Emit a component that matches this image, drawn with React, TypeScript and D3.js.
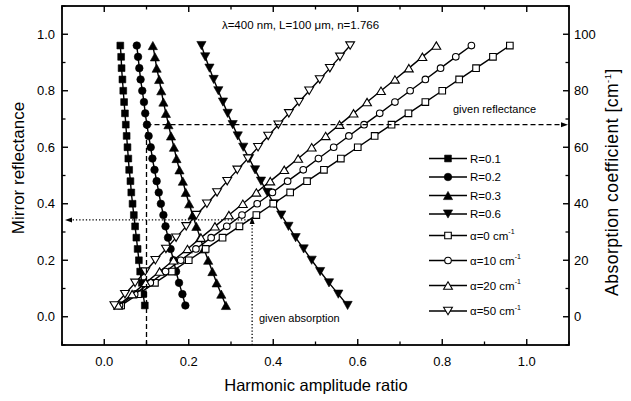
import React from 'react';
import * as d3 from 'd3';

// ---------- data ----------
// absorption coefficient (cm^-1, right axis) for the fixed-R curves
const alphaGrid = [4, 8, 12, 16, 20, 24, 28, 32, 36, 40, 44, 48, 52, 56, 60, 64, 68, 72, 76, 80, 84, 88, 92, 96];
const ratioR01 = [0.096, 0.092, 0.089, 0.085, 0.082, 0.079, 0.076, 0.073, 0.070, 0.067, 0.064, 0.062, 0.059, 0.057, 0.055, 0.053, 0.051, 0.049, 0.047, 0.045, 0.043, 0.041, 0.040, 0.038];
const ratioR02 = [0.192, 0.185, 0.177, 0.170, 0.164, 0.157, 0.151, 0.145, 0.140, 0.134, 0.129, 0.124, 0.119, 0.114, 0.110, 0.105, 0.101, 0.097, 0.094, 0.090, 0.086, 0.083, 0.080, 0.077];
const ratioR03 = [0.288, 0.277, 0.266, 0.256, 0.246, 0.236, 0.227, 0.218, 0.209, 0.201, 0.193, 0.186, 0.178, 0.171, 0.165, 0.158, 0.152, 0.146, 0.140, 0.135, 0.130, 0.124, 0.120, 0.115];
const ratioR06 = [0.576, 0.554, 0.532, 0.511, 0.491, 0.472, 0.453, 0.436, 0.419, 0.402, 0.386, 0.371, 0.357, 0.343, 0.329, 0.316, 0.304, 0.292, 0.281, 0.270, 0.259, 0.249, 0.239, 0.230];

// mirror reflectance (left axis) for the fixed-alpha curves
const reflGrid = [0.04, 0.08, 0.12, 0.16, 0.20, 0.24, 0.28, 0.32, 0.36, 0.40, 0.44, 0.48, 0.52, 0.56, 0.60, 0.64, 0.68, 0.72, 0.76, 0.80, 0.84, 0.88, 0.92, 0.96];
const ratioA0 = [0.040, 0.080, 0.120, 0.160, 0.200, 0.240, 0.280, 0.320, 0.360, 0.400, 0.440, 0.480, 0.520, 0.560, 0.600, 0.640, 0.680, 0.720, 0.760, 0.800, 0.840, 0.880, 0.920, 0.960];
const ratioA10 = [0.036, 0.072, 0.109, 0.145, 0.181, 0.217, 0.253, 0.290, 0.326, 0.362, 0.398, 0.434, 0.471, 0.507, 0.543, 0.579, 0.615, 0.652, 0.688, 0.724, 0.760, 0.796, 0.832, 0.869];
const ratioA20 = [0.033, 0.066, 0.098, 0.131, 0.164, 0.197, 0.229, 0.262, 0.295, 0.328, 0.360, 0.393, 0.426, 0.459, 0.491, 0.524, 0.557, 0.590, 0.622, 0.655, 0.688, 0.721, 0.753, 0.786];
const ratioA50 = [0.024, 0.049, 0.073, 0.097, 0.121, 0.146, 0.170, 0.194, 0.218, 0.243, 0.267, 0.291, 0.315, 0.340, 0.364, 0.388, 0.412, 0.437, 0.461, 0.485, 0.510, 0.534, 0.558, 0.582];

const xTicks = [0, 0.2, 0.4, 0.6, 0.8, 1.0];
const xTickLabels = ['0.0', '0.2', '0.4', '0.6', '0.8', '1.0'];
const yLeftTicks = [0, 0.2, 0.4, 0.6, 0.8, 1.0];
const yLeftTickLabels = ['0.0', '0.2', '0.4', '0.6', '0.8', '1.0'];
const yRightTicks = [0, 20, 40, 60, 80, 100];
const yRightTickLabels = ['0', '20', '40', '60', '80', '100'];
const xMinorTicks = [-0.1, 0.1, 0.3, 0.5, 0.7, 0.9, 1.1];
const yLeftMinorTicks = [-0.1, 0.1, 0.3, 0.5, 0.7, 0.9, 1.1];
const yRightMinorTicks = [-10, 10, 30, 50, 70, 90, 110];

const givenReflectance = 0.68;
const givenReflRatio = 0.1;
const givenAbsorptionRatio = 0.35;
const givenAbsorptionRefl = 0.348;

type Shape = 'square' | 'circle' | 'up' | 'down';
interface Series {
  label: string;
  sup?: string;
  xs: number[];
  ys: number[];
  axis: 'left' | 'right';
  shape: Shape;
  filled: boolean;
}

const series: Series[] = [
  { label: 'R=0.1', xs: ratioR01, ys: alphaGrid, axis: 'right', shape: 'square', filled: true },
  { label: 'R=0.2', xs: ratioR02, ys: alphaGrid, axis: 'right', shape: 'circle', filled: true },
  { label: 'R=0.3', xs: ratioR03, ys: alphaGrid, axis: 'right', shape: 'up', filled: true },
  { label: 'R=0.6', xs: ratioR06, ys: alphaGrid, axis: 'right', shape: 'down', filled: true },
  { label: '\u03b1=0 cm', sup: '-1', xs: ratioA0, ys: reflGrid, axis: 'left', shape: 'square', filled: false },
  { label: '\u03b1=10 cm', sup: '-1', xs: ratioA10, ys: reflGrid, axis: 'left', shape: 'circle', filled: false },
  { label: '\u03b1=20 cm', sup: '-1', xs: ratioA20, ys: reflGrid, axis: 'left', shape: 'up', filled: false },
  { label: '\u03b1=50 cm', sup: '-1', xs: ratioA50, ys: reflGrid, axis: 'left', shape: 'down', filled: false },
];

// ---------- layout ----------
const W = 631;
const H = 401;
const X0 = 62, X1 = 569, Y0 = 6, Y1 = 345;
const FONT = "'Liberation Sans', Arial, Helvetica, sans-serif";

const x = d3.scaleLinear().domain([-0.1, 1.1]).range([X0, X1]);
const yL = d3.scaleLinear().domain([-0.1, 1.1]).range([Y1, Y0]);
const yR = d3.scaleLinear().domain([-10, 110]).range([Y1, Y0]);

function Marker({ shape, filled, cx, cy }: { shape: Shape; filled: boolean; cx: number; cy: number }) {
  const fill = filled ? '#000' : '#fff';
  const sw = filled ? 0.6 : 1.1;
  if (shape === 'circle') {
    const r = filled ? 3.8 : 3.3;
    return <circle cx={cx} cy={cy} r={r} fill={fill} stroke="#000" strokeWidth={sw} />;
  }
  let d = '';
  if (shape === 'square') {
    const s = filled ? 3.4 : 3.3;
    d = `M${cx - s},${cy - s}h${2 * s}v${2 * s}h${-2 * s}Z`;
  } else if (shape === 'up') {
    const w = filled ? 4.6 : 4.4, h = filled ? 8.2 : 7.4;
    d = `M${cx},${cy - h / 2}L${cx + w},${cy + h / 2}L${cx - w},${cy + h / 2}Z`;
  } else {
    const w = filled ? 4.6 : 4.4, h = filled ? 8.2 : 7.4;
    d = `M${cx},${cy + h / 2}L${cx + w},${cy - h / 2}L${cx - w},${cy - h / 2}Z`;
  }
  return <path d={d} fill={fill} stroke="#000" strokeWidth={sw} strokeLinejoin="miter" />;
}

export default function App() {
  const line = d3.line<[number, number]>();
  const legendX = 429, legendX2 = 467, legendText = 470;
  const legendRows = [158.5, 177, 195.5, 214, 235.5, 260.5, 285.5, 311];

  const hy = yL(givenReflectance);
  const vx = x(givenReflRatio);
  const ax = x(givenAbsorptionRatio);
  const ay = yL(givenAbsorptionRefl);

  return (
    <svg width={W} height={H} viewBox={`0 0 ${W} ${H}`}
      style={{ position: 'absolute', left: 0, top: 0, display: 'block', background: '#fff' }}
      fontFamily={FONT}>
      <rect x={0} y={0} width={W} height={H} fill="#fff" />

      {/* series */}
      {series.map((s, i) => {
        const ys = s.axis === 'left' ? yL : yR;
        const pts: [number, number][] = s.xs.map((v, j) => [x(v), ys(s.ys[j])]);
        return (
          <g key={i}>
            <path d={line(pts) || ''} fill="none" stroke="#000" strokeWidth={1.4} />
            {pts.map((p, j) => <Marker key={j} shape={s.shape} filled={s.filled} cx={p[0]} cy={p[1]} />)}
          </g>
        );
      })}

      {/* given reflectance: dashed */}
      <line x1={vx} y1={Y1} x2={vx} y2={hy} stroke="#000" strokeWidth={1.3} strokeDasharray="5,3" />
      <line x1={vx} y1={hy} x2={X1 - 6} y2={hy} stroke="#000" strokeWidth={1.3} strokeDasharray="5,3" />
      <path d={`M${X1 - 1},${hy}L${X1 - 8},${hy - 2.5}L${X1 - 8},${hy + 2.5}Z`} fill="#000" />

      {/* given absorption: dotted */}
      <line x1={ax} y1={Y1} x2={ax} y2={ay + 5} stroke="#000" strokeWidth={1.3} strokeDasharray="1.3,2" />
      <path d={`M${ax},${ay - 1.5}L${ax - 2.5},${ay + 5.5}L${ax + 2.5},${ay + 5.5}Z`} fill="#000" />
      <line x1={ax} y1={ay + 1.5} x2={X0 + 9} y2={ay + 1.5} stroke="#000" strokeWidth={1.3} strokeDasharray="1.3,2" />
      <path d={`M${X0 + 3},${ay + 1.5}L${X0 + 10},${ay - 1}L${X0 + 10},${ay + 4}Z`} fill="#000" />

      <text x={453} y={113} fontSize={11} fill="#000">given reflectance</text>
      <text x={259} y={322} fontSize={11} fill="#000">given absorption</text>

      {/* frame */}
      <rect x={X0} y={Y0} width={X1 - X0} height={Y1 - Y0} fill="none" stroke="#000" strokeWidth={1.8} />

      {/* x ticks (bottom and top, inward) */}
      {xTicks.map((t, i) => (
        <g key={'xt' + i}>
          <line x1={x(t)} x2={x(t)} y1={Y1} y2={Y1 - 6} stroke="#000" strokeWidth={1.4} />
          <line x1={x(t)} x2={x(t)} y1={Y0} y2={Y0 + 6} stroke="#000" strokeWidth={1.4} />
          <text x={x(t)} y={365.5} fontSize={13} textAnchor="middle" fill="#000">{xTickLabels[i]}</text>
        </g>
      ))}
      {xMinorTicks.map((t, i) => (
        <g key={'xm' + i}>
          <line x1={x(t)} x2={x(t)} y1={Y1} y2={Y1 - 3.5} stroke="#000" strokeWidth={1.3} />
          <line x1={x(t)} x2={x(t)} y1={Y0} y2={Y0 + 3.5} stroke="#000" strokeWidth={1.3} />
        </g>
      ))}

      {/* left y ticks */}
      {yLeftTicks.map((t, i) => (
        <g key={'yl' + i}>
          <line x1={X0} x2={X0 + 6} y1={yL(t)} y2={yL(t)} stroke="#000" strokeWidth={1.4} />
          <text x={55} y={yL(t) + 4.7} fontSize={13} textAnchor="end" fill="#000">{yLeftTickLabels[i]}</text>
        </g>
      ))}
      {yLeftMinorTicks.map((t, i) => (
        <line key={'ylm' + i} x1={X0} x2={X0 + 3.5} y1={yL(t)} y2={yL(t)} stroke="#000" strokeWidth={1.3} />
      ))}

      {/* right y ticks */}
      {yRightTicks.map((t, i) => (
        <g key={'yr' + i}>
          <line x1={X1} x2={X1 - 6} y1={yR(t)} y2={yR(t)} stroke="#000" strokeWidth={1.4} />
          <text x={574} y={yR(t) + 4.7} fontSize={13} textAnchor="start" fill="#000">{yRightTickLabels[i]}</text>
        </g>
      ))}
      {yRightMinorTicks.map((t, i) => (
        <line key={'yrm' + i} x1={X1} x2={X1 - 3.5} y1={yR(t)} y2={yR(t)} stroke="#000" strokeWidth={1.3} />
      ))}

      {/* axis titles */}
      <text x={316} y={391} fontSize={16.5} textAnchor="middle" fill="#000">Harmonic amplitude ratio</text>
      <text transform="translate(24,168) rotate(-90)" fontSize={17} textAnchor="middle" fill="#000">Mirror reflectance</text>
      <text transform="translate(618,182) rotate(-90)" fontSize={17.5} letterSpacing={0.5} textAnchor="middle" fill="#000">
        Absorption coefficient [cm<tspan fontSize={9.5} dy={-7.5}>-1</tspan><tspan dy={7.5}>]</tspan>
      </text>

      {/* annotation */}
      <text x={300.5} y={28.5} fontSize={11.5} textAnchor="middle" fill="#000">{'\u03bb=400 nm, L=100 \u03bcm, n=1.766'}</text>

      {/* legend */}
      {series.map((s, i) => {
        const yy = legendRows[i];
        return (
          <g key={'lg' + i}>
            <line x1={legendX} x2={legendX2} y1={yy} y2={yy} stroke="#000" strokeWidth={1.4} />
            <Marker shape={s.shape} filled={s.filled} cx={(legendX + legendX2) / 2} cy={yy} />
            <text x={legendText} y={yy + 4} fontSize={11.5} fill="#000">
              {s.label}
              {s.sup ? <tspan fontSize={7} dy={-5.5}>{s.sup}</tspan> : null}
            </text>
          </g>
        );
      })}
    </svg>
  );
}
